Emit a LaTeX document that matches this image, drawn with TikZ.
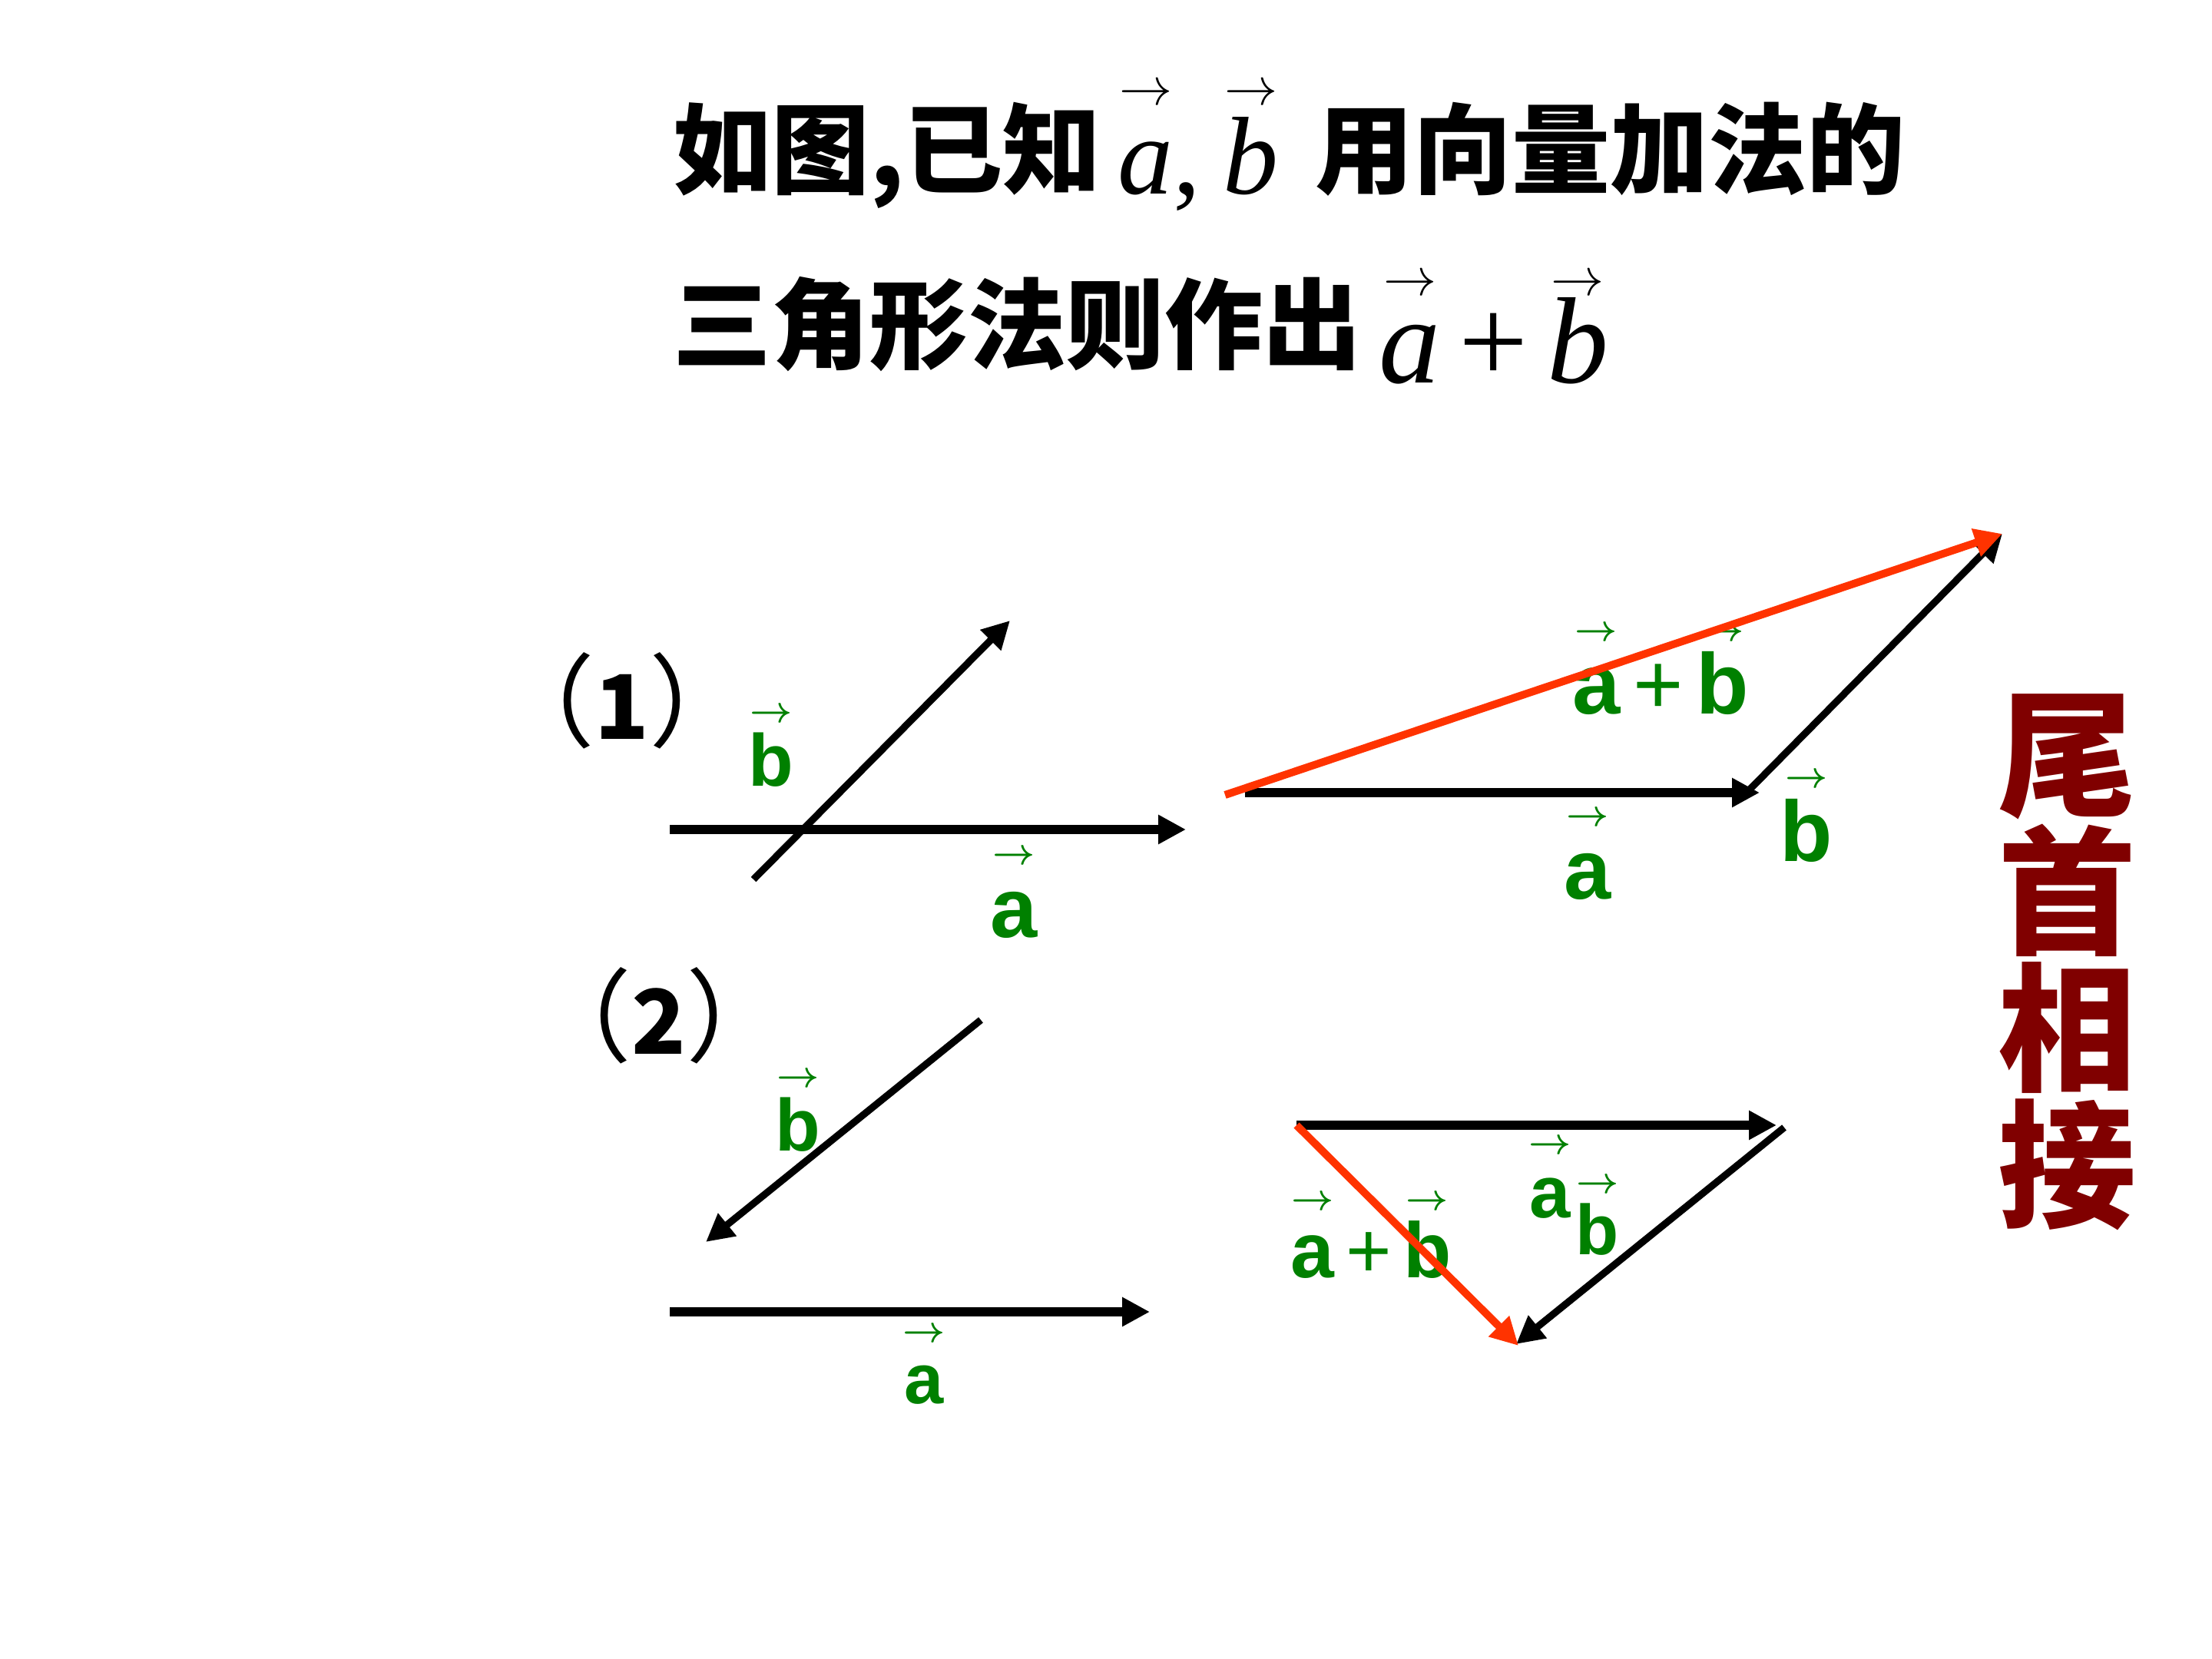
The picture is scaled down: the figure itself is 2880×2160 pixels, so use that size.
\documentclass[tikz,border=0pt]{standalone}
\usepackage{fontspec}
\usetikzlibrary{arrows.meta}
\newfontfamily\cjk{Noto Sans CJK SC}
\newfontfamily\lab{Liberation Sans}
\newfontfamily\tnr{Liberation Serif}
\definecolor{lgreen}{RGB}{0,128,0}
\definecolor{sumred}{RGB}{255,51,0}
\definecolor{dred}{RGB}{128,0,0}
\newsavebox\lbox
\newcommand\gv[1]{\sbox\lbox{#1}\rlap{\makebox[\wd\lbox]{\raisebox{\dimexpr0.82em+1pt\relax}{\fontsize{12.5}{12.5}\selectfont\boldmath$\rightarrow$}}}\usebox\lbox}
\newcommand\mv[2]{\sbox\lbox{#2}\rlap{\makebox[\wd\lbox]{\raisebox{#1}{\fontsize{18}{18}\selectfont$\rightarrow$}}}\usebox\lbox}
\newcommand\pl{{\mdseries+}}
\newcommand\dg[1]{{\fontsize{29}{29}\selectfont\bfseries #1}}
\begin{document}
\begin{tikzpicture}[x=0.25pt,y=-0.25pt,
  vec/.style={line width=3pt,-{Triangle[length=9pt,width=9pt]}},
  dvec/.style={line width=2.3pt,-{Triangle[length=9pt,width=9pt]}},
  svec/.style={line width=2.5pt,draw=sumred,-{Triangle[length=9pt,width=9pt]}},
  title/.style={inner sep=0pt,anchor=base west,font=\cjk\bfseries\fontsize{32}{32}\selectfont},
  mth/.style={inner sep=0pt,anchor=base west,font=\tnr\fontsize{#1}{#1}\selectfont},
  lbl/.style={inner sep=0pt,anchor=base,text=lgreen,font=\lab\bfseries\fontsize{#1}{#1}\selectfont},
  num/.style={inner sep=0pt,anchor=base,font=\cjk\fontsize{33}{33}\selectfont}]
\useasboundingbox (0,0) rectangle (2880,2160);

% title
\node[title] (t1a) at (876,243) {如图,已知};
\node[mth=36] (t1m) at (1455,253) {\mv{29pt}{\itshape a},\kern.2em\mv{29pt}{\itshape b}};
\node[title] (t1b) at (1712,243) {用向量加法的};
\node[title] (t2a) at (876,471) {三角形法则作出};
\node[mth=40] (t2m) at (1795,499) {\mv{28.5pt}{\itshape a}\kern.15em+\kern.15em\mv{28.5pt}{\itshape b}};

% side text
\node[inner sep=0pt,text=dred,font=\cjk\bfseries\fontsize{45}{44.5}\selectfont,align=center] (tag) at (2691,1253) {尾\\首\\相\\接};

% case numbers
\node[num] (n1) at (810,962) {（\dg{1}）};
\node[num] (n2) at (858,1372) {（\dg{2}）};

% labels
\node[lbl=24] (l1b) at (1004,1023) {\gv{b}};
\node[lbl=27.5] (l1a) at (1320,1220) {\gv{a}};
\node[lbl=28] (r1s) at (2162,930) {\gv{a}\kern.15em\pl\kern.15em\gv{b}};
\node[lbl=27.5] (r1a) at (2067,1170) {\gv{a}};
\node[lbl=28] (r1b) at (2352,1121) {\gv{b}};
\node[lbl=24] (l2b) at (1039,1498) {\gv{b}};
\node[lbl=23] (l2a) at (1203,1827) {\gv{a}};
\node[lbl=25.5] (r2s) at (1785,1663) {\gv{a}\kern.15em\pl\kern.15em\gv{b}};
\node[lbl=24] (r2a) at (2018,1585) {\gv{a}};
\node[lbl=23] (r2b) at (2080,1633) {\gv{b}};

% coordinates
\coordinate (L1as) at (872,1080);  \coordinate (L1ae) at (1544,1080);
\coordinate (L1bs) at (981,1145);  \coordinate (L1be) at (1315,808);
\coordinate (R1as) at (1621,1032); \coordinate (R1ae) at (2291,1032);
\coordinate (R1bs) at (2274,1032); \coordinate (R1be) at (2607,695);
\coordinate (R1ss) at (1595,1035);
\coordinate (L2bs) at (1277,1328); \coordinate (L2be) at (919,1617);
\coordinate (L2as) at (872,1708);  \coordinate (L2ae) at (1497,1708);
\coordinate (R2as) at (1688,1465); \coordinate (R2ae) at (2313,1465);
\coordinate (R2bs) at (2323,1468); \coordinate (R2be) at (1974,1750);
\coordinate (R2se) at (1977,1752);

% vectors
\draw[vec] (L1as) -- (L1ae);
\draw[dvec] (L1bs) -- (L1be);
\draw[vec] (R1as) -- (R1ae);
\draw[dvec] (R1bs) -- (R1be);
\draw[svec] (R1ss) -- (R1be);
\draw[dvec] (L2bs) -- (L2be);
\draw[vec] (L2as) -- (L2ae);
\draw[vec] (R2as) -- (R2ae);
\draw[dvec] (R2bs) -- (R2be);
\draw[svec] (R2as) -- (R2se);
\end{tikzpicture}
\end{document}
